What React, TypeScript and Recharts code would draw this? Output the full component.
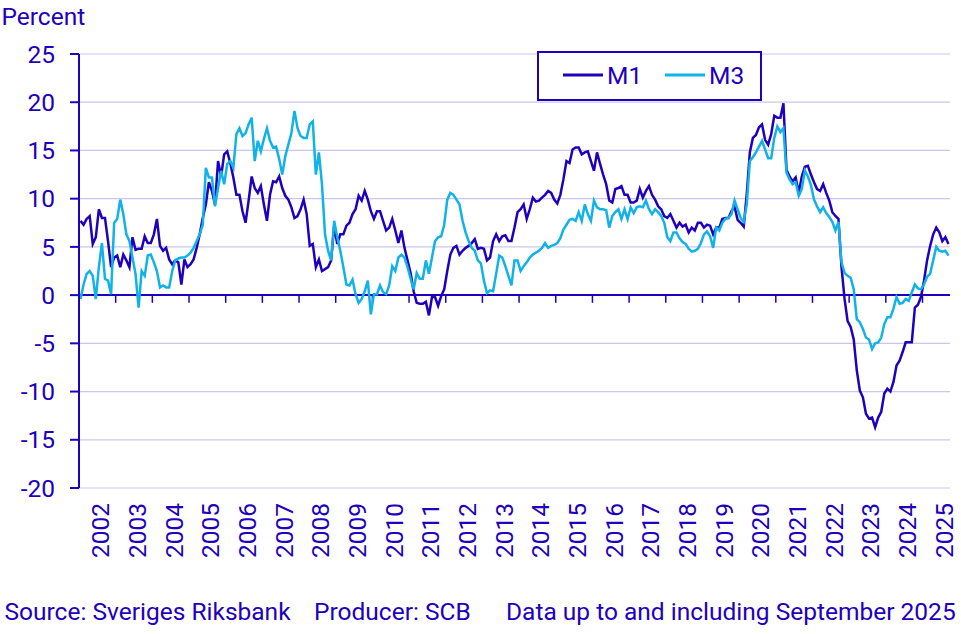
import React from 'react';
import { LineChart, Line, XAxis, YAxis, CartesianGrid, ReferenceLine, Legend } from 'recharts';

const DARK = '#1e00be';
const LIGHT = '#10b2e8';
const GRID = '#c9c7ee';
const FONT = 'Roboto, "Noto Sans", sans-serif';
const FS = 24.5;

const years = [2002, 2003, 2004, 2005, 2006, 2007, 2008, 2009, 2010, 2011, 2012, 2013, 2014, 2015, 2016, 2017, 2018, 2019, 2020, 2021, 2022, 2023, 2024, 2025];
const yTicks = [-20, -15, -10, -5, 0, 5, 10, 15, 20, 25];

// Monthly values, Jan 2002 .. Sep 2025
const M1 = [
  7.7, 7.3, 7.9, 8.2, 5.3, 6.0, 8.9, 8.0, 8.0, 5.6, 2.9, 3.9,
  4.1, 2.9, 4.2, 3.6, 2.9, 6.0, 4.7, 4.8, 4.8, 6.1, 5.4, 5.4,
  6.3, 7.9, 5.1, 4.6, 4.9, 3.7, 3.2, 3.6, 3.4, 1.1, 3.7, 2.9,
  3.2, 3.7, 4.9, 6.3, 8.0, 9.4, 11.7, 10.8, 9.4, 13.9, 12.3, 14.6,
  14.9, 13.7, 12.2, 10.4, 10.4, 8.7, 7.5, 9.8, 12.3, 11.1, 10.6, 11.3,
  9.4, 7.7, 10.4, 11.8, 11.7, 12.3, 11.1, 10.3, 9.9, 9.1, 8.0, 8.2,
  8.9, 9.9, 8.4, 5.1, 5.3, 2.9, 3.7, 2.5, 2.7, 2.9, 3.6, 7.2,
  5.3, 6.3, 6.3, 7.2, 7.5, 8.4, 8.9, 10.3, 9.8, 10.8, 9.9, 8.7,
  7.9, 8.7, 8.7, 7.7, 6.7, 7.0, 7.9, 6.7, 5.4, 6.7, 4.9, 3.6,
  2.3, 0.4, -0.8, -0.9, -0.9, -0.7, -2.1, -0.2, -0.2, -1.1, -0.1, 0.6,
  2.5, 4.2, 4.9, 5.1, 4.2, 4.6, 4.9, 5.1, 5.4, 5.8, 4.8, 4.9,
  4.8, 3.6, 3.9, 5.6, 6.3, 5.6, 6.1, 6.2, 5.6, 5.6, 7.0, 8.6,
  8.9, 9.4, 7.9, 8.9, 10.1, 9.7, 9.8, 10.1, 10.4, 10.8, 10.6, 9.9,
  9.5, 10.4, 12.0, 13.9, 13.7, 15.1, 15.3, 15.3, 14.6, 14.8, 14.9, 13.9,
  12.9, 14.8, 13.6, 12.5, 11.5, 9.8, 9.6, 11.0, 11.1, 11.3, 10.4, 10.4,
  9.6, 9.6, 9.8, 11.0, 10.1, 10.8, 11.3, 10.4, 9.9, 9.2, 8.9, 8.2,
  8.0, 8.4, 7.7, 7.0, 7.5, 7.1, 7.3, 6.5, 7.0, 6.7, 7.5, 7.5,
  7.0, 7.3, 7.2, 6.3, 7.0, 7.0, 7.9, 8.0, 8.0, 8.7, 9.2, 7.8,
  7.5, 7.1, 10.5, 14.8, 16.3, 16.6, 17.4, 17.7, 16.1, 15.6, 16.7, 18.6,
  18.4, 18.4, 19.9, 13.0, 12.3, 11.8, 12.2, 10.6, 12.3, 13.3, 13.4, 12.5,
  11.7, 11.0, 10.8, 11.5, 10.6, 9.8, 8.6, 8.2, 7.9, 2.9, -0.4, -2.7,
  -3.3, -4.6, -7.8, -9.9, -10.6, -12.3, -12.8, -12.7, -13.7, -12.7, -12.1, -10.2,
  -9.7, -10.0, -9.0, -7.3, -6.8, -5.9, -4.9, -4.9, -4.9, -1.3, -1.0, -0.2,
  1.5, 3.6, 5.1, 6.3, 7.0, 6.5, 5.6, 6.0, 5.3,
];

const M3 = [
  -0.4, 1.1, 2.2, 2.5, 2.0, -0.4, 2.9, 5.4, 1.7, 1.5, 0.1, 7.5,
  7.9, 9.9, 8.4, 6.3, 5.6, 3.9, 2.2, -1.3, 2.5, 2.0, 4.1, 4.2,
  3.4, 2.5, 0.8, 1.0, 0.8, 0.8, 2.5, 3.6, 3.8, 3.9, 3.9, 4.1,
  4.4, 4.9, 5.6, 6.3, 7.3, 13.2, 12.2, 12.2, 9.2, 11.1, 12.9, 11.5,
  13.6, 13.9, 13.2, 16.7, 17.3, 16.5, 16.8, 17.7, 18.4, 13.9, 16.0, 14.9,
  16.2, 17.3, 16.0, 15.3, 15.4, 14.1, 12.5, 14.4, 15.6, 16.8, 19.1, 17.3,
  16.5, 16.3, 16.3, 17.7, 18.0, 12.5, 14.8, 11.5, 6.3, 4.6, 3.6, 7.7,
  6.0, 4.6, 2.9, 1.1, 1.0, 1.6, 0.1, -0.8, -0.4, 0.4, 1.5, -2.0,
  0.1, 0.1, 1.0, 0.3, 0.1, 1.0, 3.0, 2.5, 3.9, 4.2, 3.9, 2.9,
  1.7, 0.6, 2.3, 1.7, 1.7, 3.6, 2.2, 3.9, 5.6, 6.0, 6.1, 7.3,
  9.9, 10.6, 10.4, 9.9, 9.4, 7.7, 6.5, 5.6, 4.9, 4.6, 3.6, 3.3,
  1.5, 0.2, 0.5, 0.4, 2.2, 4.1, 3.9, 3.0, 2.0, 1.0, 3.6, 3.6,
  2.5, 3.0, 3.4, 3.9, 4.2, 4.4, 4.6, 4.9, 5.4, 4.9, 5.1, 5.2,
  5.4, 5.9, 6.8, 7.3, 7.8, 7.9, 7.7, 8.6, 7.7, 9.4, 8.4, 7.7,
  9.8, 9.1, 8.9, 8.9, 8.8, 7.0, 8.2, 8.6, 8.9, 7.9, 8.9, 7.9,
  9.1, 8.5, 9.1, 9.2, 9.1, 9.8, 8.9, 8.4, 8.9, 8.6, 8.2, 7.5,
  6.0, 5.6, 6.5, 6.5, 5.9, 5.5, 5.3, 4.8, 4.5, 4.6, 4.8, 5.4,
  6.3, 6.6, 6.1, 4.9, 7.0, 6.7, 7.5, 7.9, 8.0, 8.4, 9.8, 8.9,
  8.0, 7.6, 9.4, 13.9, 14.3, 14.8, 15.4, 16.0, 15.1, 14.2, 14.2, 16.3,
  17.5, 16.9, 17.3, 12.7, 12.0, 11.5, 11.7, 10.3, 11.0, 12.9, 12.3, 11.4,
  9.9, 9.2, 8.6, 9.1, 8.5, 8.1, 7.6, 6.7, 7.6, 3.4, 2.3, 2.0,
  1.8, 0.6, -2.5, -2.8, -3.5, -4.4, -4.6, -5.6, -5.0, -4.9, -4.4, -3.0,
  -2.3, -2.3, -1.4, -0.2, -0.9, -0.8, -0.4, -0.6, 0.3, 1.1, 0.7, 0.6,
  1.1, 1.9, 2.2, 3.6, 5.0, 4.6, 4.5, 4.6, 4.1,
];

const seriesNames = ['M1', 'M3'];
const footerTexts = ['Source: Sveriges Riksbank', 'Producer: SCB', 'Data up to and including September 2025'];

const data = M1.map((v, i) => ({ m: i, M1: v, M3: M3[i] }));
const lastIndex = M1.length - 1;
const yearMidTicks = years.map((_, k) => k * 12 + 5.5);
const yearBoundaries = years.slice(1).map((_, k) => (k + 1) * 12 - 0.5);

const YearTick = (props: any) => {
  const { x, y, payload } = props;
  const k = Math.round((payload.value - 5.5) / 12);
  const label = String(years[0] + k);
  const tx = x + 12;
  const ty = y + 15;
  return (
    <text
      x={tx}
      y={ty}
      transform={`rotate(-90, ${tx}, ${ty})`}
      textAnchor="end"
      fill={DARK}
      fontSize={FS}
      fontFamily={FONT}
    >
      {label}
    </text>
  );
};

const LegendBox = () => (
  <svg width={225} height={50} style={{ display: 'block' }}>
    <rect x={1} y={1} width={223} height={48} fill="#ffffff" stroke={DARK} strokeWidth={2} />
    <line x1={26} x2={66} y1={24} y2={24} stroke={DARK} strokeWidth={3} />
    <text x={70} y={32.5} fill={DARK} fontSize={FS} fontFamily={FONT}>{seriesNames[0]}</text>
    <line x1={128} x2={168} y1={24} y2={24} stroke={LIGHT} strokeWidth={3} />
    <text x={172} y={32.5} fill={DARK} fontSize={FS} fontFamily={FONT}>{seriesNames[1]}</text>
  </svg>
);

export default function App() {
  return (
    <div style={{ position: 'absolute', left: 0, top: 0, width: 961, height: 634, background: '#ffffff' }}>
      <LineChart
        width={961}
        height={634}
        data={data}
        margin={{ top: 54, right: 11, bottom: 86, left: 0 }}
      >
        <CartesianGrid vertical={false} stroke={GRID} strokeWidth={1.2} />
        <XAxis
          dataKey="m"
          type="number"
          domain={[-0.5, lastIndex + 0.5]}
          ticks={yearMidTicks}
          interval={0}
          tick={<YearTick />}
          axisLine={false}
          tickLine={false}
          tickSize={0}
          tickMargin={0}
          height={60}
          allowDataOverflow
        />
        <YAxis
          type="number"
          domain={[-20, 25]}
          ticks={yTicks}
          interval={0}
          width={79}
          axisLine={{ stroke: DARK, strokeWidth: 2 }}
          tickLine={{ stroke: DARK, strokeWidth: 2 }}
          tickSize={9}
          tickMargin={15}
          tick={{ fill: DARK, fontSize: FS, fontFamily: FONT }}
        />
        <ReferenceLine y={0} stroke={DARK} strokeWidth={2} />
        {yearBoundaries.map((b) => (
          <ReferenceLine
            key={b}
            segment={[{ x: b, y: 0 }, { x: b, y: -0.8 }]}
            stroke={DARK}
            strokeWidth={1.5}
          />
        ))}
        <Line type="linear" dataKey="M1" stroke={DARK} strokeWidth={2.5} dot={false} isAnimationActive={false} />
        <Line type="linear" dataKey="M3" stroke={LIGHT} strokeWidth={2.5} dot={false} isAnimationActive={false} />
        <Legend
          layout="horizontal"
          verticalAlign="middle"
          align="center"
          wrapperStyle={{ position: 'absolute', left: 537, top: 51, width: 225, height: 50 }}
          content={() => <LegendBox />}
        />
      </LineChart>
      <svg
        width={961}
        height={634}
        style={{ position: 'absolute', left: 0, top: 0, pointerEvents: 'none' }}
      >
        <text x={1.5} y={25} fill={DARK} fontSize={FS} fontFamily={FONT}>Percent</text>
        <text x={4.5} y={620} fill={DARK} fontSize={FS} fontFamily={FONT}>{footerTexts[0]}</text>
        <text x={314} y={620} fill={DARK} fontSize={FS} fontFamily={FONT}>{footerTexts[1]}</text>
        <text x={506} y={620} fill={DARK} fontSize={FS} fontFamily={FONT}>{footerTexts[2]}</text>
      </svg>
    </div>
  );
}
